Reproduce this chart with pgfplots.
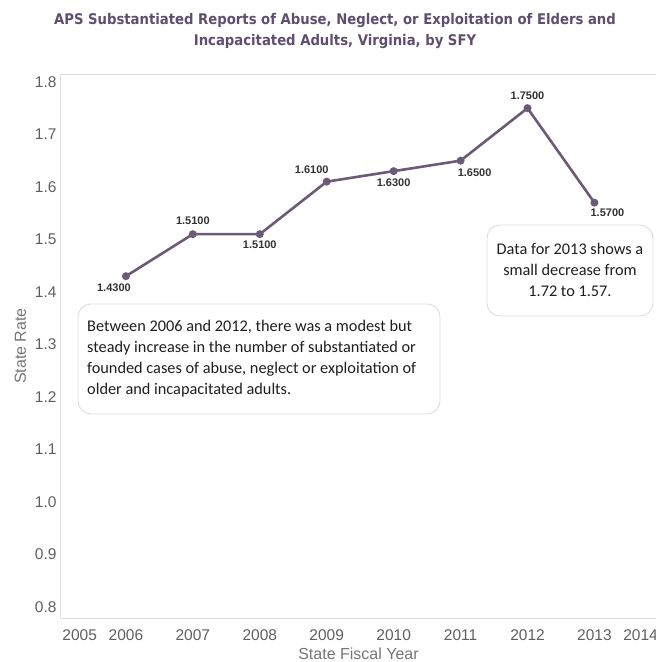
\documentclass[border=0pt]{standalone}
\usepackage{fontspec}
\usepackage{pgfplots}
\pgfplotsset{compat=1.18}
\setmainfont{Liberation Sans}
\newfontfamily\titlefont{DejaVu Sans Condensed}
\newfontfamily\notefont{Carlito}
\definecolor{linec}{HTML}{6B5A78}
\definecolor{titlec}{HTML}{5E4E70}
\definecolor{tickc}{HTML}{5F5F5F}
\definecolor{labc}{HTML}{757575}
\definecolor{framec}{HTML}{DCDCDC}
\definecolor{boxc}{HTML}{DDDDDD}
\begin{document}
\begin{tikzpicture}
\useasboundingbox (0pt,0pt) rectangle (656pt,-662pt);
\node[font=\titlefont\bfseries\fontsize{14.7}{20.5}\selectfont, text=titlec, align=center] at (335pt,-31pt)
  {APS Substantiated Reports of Abuse, Neglect, or Exploitation of Elders and\\Incapacitated Adults, Virginia, by SFY};
\begin{axis}[
  at={(61pt,-618pt)}, anchor=south west,
  scale only axis, width=595pt, height=544pt,
  xmin=2005.03, xmax=2013.92,
  ymin=0.779, ymax=1.815,
  axis x line*=bottom, axis y line*=left,
  axis line style={framec, line width=1pt},
  major tick length=0pt,
  xtick={2005.31,2006,2007,2008,2009,2010,2011,2012,2013,2013.69},
  xticklabels={2005,2006,2007,2008,2009,2010,2011,2012,2013,2014},
  ytick={0.8,0.9,1.0,1.1,1.2,1.3,1.4,1.5,1.6,1.7,1.8},
  yticklabel style={/pgf/number format/fixed, /pgf/number format/fixed zerofill, /pgf/number format/precision=1, /pgf/number format/assume math mode=true, xshift=-1pt},
  ticklabel style={font=\fontsize{15.5}{18}\selectfont, text=tickc},
  xticklabel style={yshift=-8pt},
  xlabel={State Fiscal Year}, ylabel={State Rate},
  label style={font=\fontsize{16}{18}\selectfont, text=labc},
  xlabel style={yshift=-1pt},
  ylabel style={yshift=2pt},
  clip=false,
]
\draw[framec, line width=1pt] (rel axis cs:0,1) -- (rel axis cs:1,1);
\addplot[linec, line width=2.6pt, mark=*, mark size=2.6pt, mark options={fill=linec, draw=linec},
  point meta=y,
  nodes near coords={\pgfmathprintnumber[fixed, fixed zerofill, precision=4, assume math mode=true]{\pgfplotspointmeta}},
  visualization depends on={value \thisrow{dx}\as\dx},
  visualization depends on={value \thisrow{dy}\as\dy},
  every node near coord/.append style={anchor=center, xshift=\dx pt, yshift=\dy pt,
     font=\bfseries\fontsize{11}{12}\selectfont, text=black!80},
] table {
x y dx dy
2006 1.43 -12 -12
2007 1.51 0 13
2008 1.51 0 -11
2009 1.61 -15 12
2010 1.63 0 -12
2011 1.65 14 -12
2012 1.75 0 12
2013 1.57 13 -10
};
\end{axis}
\draw[boxc, line width=0.9pt, rounded corners=13pt, fill=white] (78pt,-304pt) rectangle (440pt,-414pt);
\node[anchor=north west, align=left, font=\notefont\fontsize{16.3}{21}\selectfont, text=black!88, inner sep=0pt] at (87pt,-320pt)
  {Between 2006 and 2012, there was a modest but\\steady increase in the number of substantiated or\\founded cases of abuse, neglect or exploitation of\\older and incapacitated adults.};
\draw[boxc, line width=0.9pt, rounded corners=13pt, fill=white] (487pt,-225pt) rectangle (653pt,-316pt);
\node[align=center, font=\notefont\fontsize{16.3}{21}\selectfont, text=black!88, inner sep=0pt] at (570pt,-270pt)
  {Data for 2013 shows a\\small decrease from\\1.72 to 1.57.};
\end{tikzpicture}
\end{document}
